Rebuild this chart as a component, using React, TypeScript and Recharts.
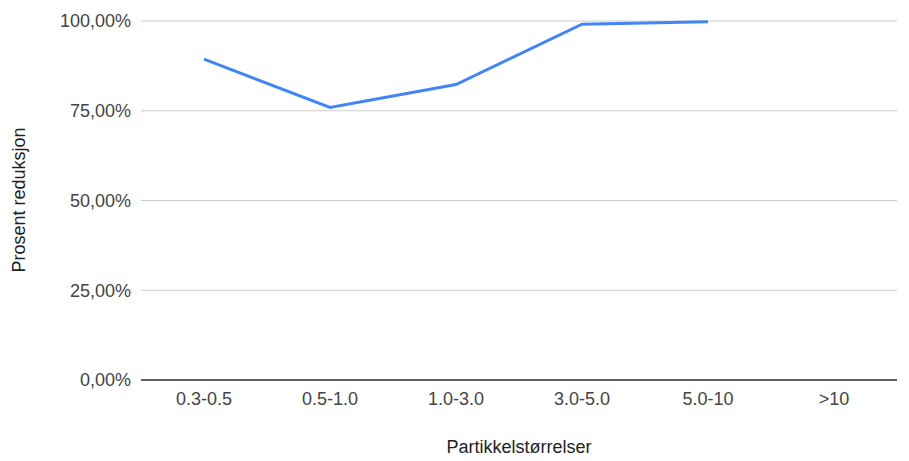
import { LineChart, Line, XAxis, YAxis, CartesianGrid } from 'recharts';

const sizes = ['0.3-0.5', '0.5-1.0', '1.0-3.0', '3.0-5.0', '5.0-10', '>10'];
const reduction: (number | null)[] = [89.4, 75.9, 82.3, 99.1, 99.8, null];
const yTicks = [0, 25, 50, 75, 100];

const data = sizes.map((name, i) => ({ name, value: reduction[i] }));

const font = 'Arial, "Liberation Sans", sans-serif';

const fmtPct = (v: number) => `${v.toFixed(2).replace('.', ',')}%`;

export default function App() {
  return (
    <div style={{ position: 'fixed', top: 0, left: 0, background: '#fff' }}>
      <LineChart
        width={909}
        height={461}
        data={data}
        margin={{ top: 21, right: 12, bottom: 0, left: 0 }}
        style={{ fontFamily: font }}
      >
        <CartesianGrid vertical={false} stroke="#cccccc" />
        <XAxis
          dataKey="name"
          height={81}
          padding={{ left: 63, right: 63 }}
          tickLine={false}
          tickSize={0}
          tickMargin={12}
          axisLine={{ stroke: '#333333', strokeWidth: 1.5 }}
          tick={{ fill: '#444444', fontSize: 18 }}
          label={{
            value: 'Partikkelstørrelser',
            position: 'insideBottom',
            offset: 8,
            fill: '#222222',
            fontSize: 18,
          }}
        />
        <YAxis
          width={141}
          domain={[0, 100]}
          ticks={yTicks}
          tickFormatter={fmtPct}
          tickLine={false}
          axisLine={false}
          tickSize={0}
          tickMargin={10}
          tick={{ fill: '#444444', fontSize: 18 }}
          label={{
            content: () => (
              <text
                transform="translate(25,200) rotate(-90)"
                textAnchor="middle"
                fill="#222222"
                fontSize={18}
                fontFamily={font}
              >
                Prosent reduksjon
              </text>
            ),
          }}
        />
        <Line
          type="linear"
          dataKey="value"
          stroke="#4285f4"
          strokeWidth={3}
          dot={false}
          activeDot={false}
          isAnimationActive={false}
        />
      </LineChart>
    </div>
  );
}
